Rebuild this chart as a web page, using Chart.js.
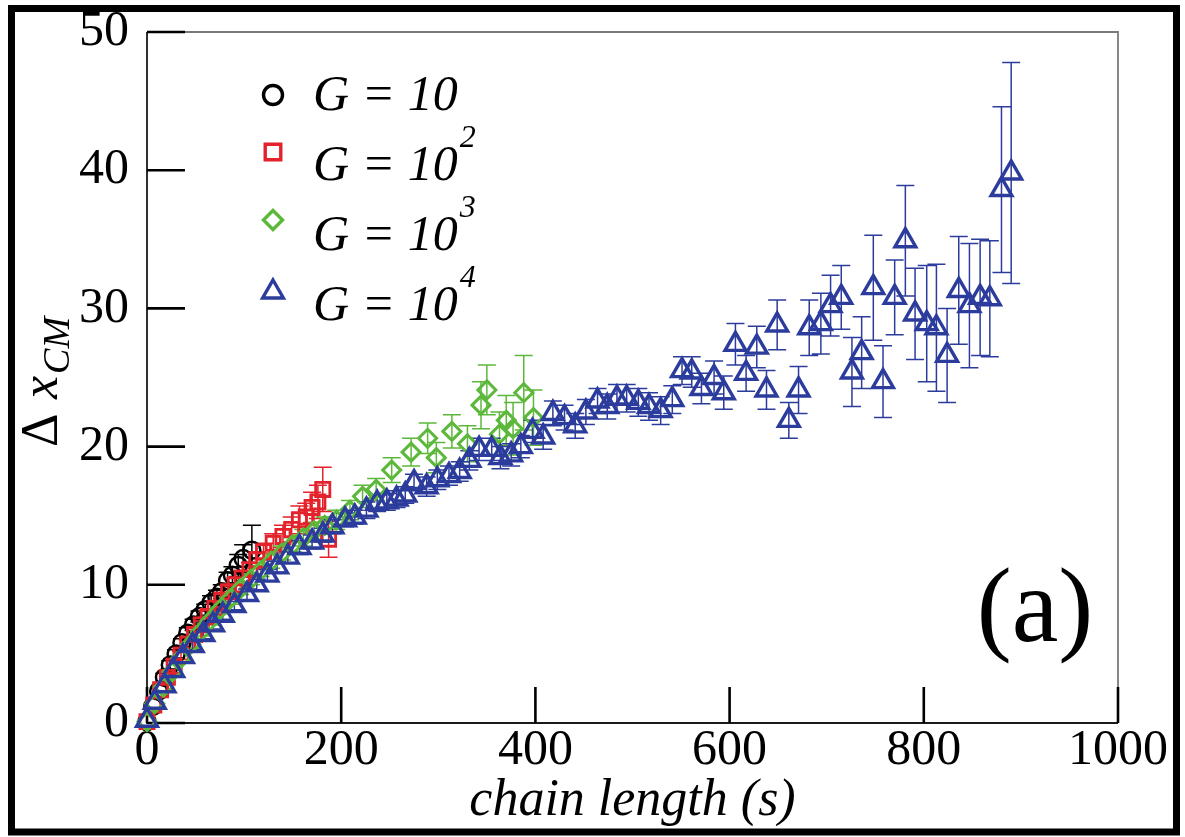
<!DOCTYPE html>
<html>
<head>
<meta charset="utf-8">
<title>Center of mass displacement vs chain length</title>
<script src="https://cdn.jsdelivr.net/npm/chart.js@4.4.0/dist/chart.umd.min.js"></script>
<style>
  html, body { margin: 0; padding: 0; background: #fff; }
  #wrap { position: relative; width: 1185px; height: 837px; }
  #wrap canvas { position: absolute; left: 0; top: 0; }
  .lbl {
    position: absolute;
    font-family: 'Liberation Serif', 'Times New Roman', Times, 'Noto Serif', 'DejaVu Serif', serif;
    color: #000;
    white-space: nowrap;
    line-height: 1;
  }
  .leg { left: 313px; font-size: 50px; font-style: italic; }
  .leg sup { font-size: 32px; vertical-align: baseline; position: relative; top: -33px; margin-left: 2px; }
  #panel { left: 935px; top: 553px; width: 200px; text-align: center; font-size: 105px; }
</style>
</head>
<body>
<div id="wrap">
  <canvas id="chart" width="1185" height="837"></canvas>
  <div id="legend"></div>
  <div class="lbl" id="panel">(a)</div>
</div>
<script>
// G = 10
const sG1 = [0, 6, 12, 18, 24, 30, 36, 42, 48, 54, 60, 66, 72, 77, 83, 88, 94, 99, 108];
const vG1 = [0.1, 1.2, 2.3, 3.3, 4.2, 5.0, 5.8, 6.5, 7.1, 7.7, 8.2, 8.7, 9.1, 9.5, 10.3, 10.7, 11.4, 11.9, 12.5];
const eG1 = [0.1, 0.2, 0.2, 0.3, 0.3, 0.3, 0.3, 0.4, 0.4, 0.4, 0.4, 0.5, 0.5, 0.5, 0.6, 0.6, 0.8, 1.0, 1.8];

// G = 10^2
const sG2 = [0, 7, 14, 21, 28, 35, 42, 49, 56, 63, 70, 77, 84, 91, 98, 106, 113, 120, 130, 140, 149, 157, 164, 170, 176, 181, 187];
const vG2 = [0.1, 1.3, 2.4, 3.3, 4.1, 4.9, 5.7, 6.4, 7.1, 7.7, 8.3, 8.9, 9.5, 10.0, 10.5, 11.1, 11.8, 12.4, 13.0, 13.5, 14.0, 14.7, 14.9, 15.6, 16.0, 16.9, 13.3];
const eG2 = [0.1, 0.1, 0.2, 0.2, 0.2, 0.3, 0.3, 0.3, 0.3, 0.4, 0.4, 0.4, 0.4, 0.5, 0.5, 0.5, 0.6, 0.6, 0.7, 0.8, 0.9, 1.0, 1.0, 1.1, 1.2, 1.6, 1.3];

// G = 10^3
const sG3 = [0, 8, 17, 26, 35, 45, 55, 65, 75, 86, 96, 107, 117, 128, 139, 150, 161, 172, 183, 195, 209, 222, 236, 252, 272, 289, 298, 314, 330, 344, 350, 363, 370, 377, 388, 398];
const vG3 = [0.1, 1.4, 2.6, 3.7, 4.7, 5.7, 6.6, 7.4, 8.2, 9.0, 9.7, 10.4, 11.0, 11.7, 12.3, 12.9, 13.4, 13.9, 14.3, 14.7, 15.4, 16.4, 16.9, 18.3, 19.6, 20.6, 19.2, 21.1, 20.2, 23.0, 24.1, 20.9, 21.9, 21.3, 23.9, 22.1];
const eG3 = [0.1, 0.1, 0.2, 0.2, 0.2, 0.3, 0.3, 0.3, 0.3, 0.4, 0.4, 0.4, 0.4, 0.5, 0.5, 0.5, 0.6, 0.6, 0.6, 0.7, 0.7, 0.8, 0.8, 0.9, 1.0, 1.1, 1.1, 1.2, 1.3, 1.7, 1.8, 1.6, 1.8, 1.9, 2.7, 2.0];

// G = 10^4
const sG4 = [0, 8, 18, 27, 37, 47, 58, 68, 78, 90, 103, 113, 124, 134, 145, 157, 170, 181, 191, 204,
  214, 226, 237, 247, 257, 266, 275, 288, 299, 311, 322, 332, 342, 355, 364, 375, 385, 397, 408, 418,
  430, 441, 452, 464, 474, 484, 494, 506, 517, 529, 541, 551, 561, 571, 584, 594, 606, 617, 628, 638,
  649, 661, 671, 682, 694, 704, 715, 726, 736, 748, 758, 770, 781, 791, 803, 813, 824, 836, 847, 858,
  868, 880, 890];
const vG4 = [0.2, 1.5, 2.7, 3.8, 4.8, 5.6, 6.4, 7.1, 7.8, 8.5, 9.3, 10.0, 10.7, 11.3, 12.0, 12.7, 13.1, 13.6, 14.2, 14.7,
  14.9, 15.4, 15.9, 16.0, 16.2, 16.5, 17.4, 17.1, 17.6, 17.9, 18.2, 19.0, 19.8, 19.8, 19.2, 19.4, 20.0, 21.1, 20.7, 22.4,
  22.1, 21.5, 22.5, 23.3, 22.9, 23.5, 23.5, 23.2, 22.9, 22.6, 23.4, 25.5, 25.4, 24.2, 25.0, 23.9, 27.4, 25.3, 27.2, 24.1,
  28.8, 21.9, 24.1, 28.6, 28.9, 30.2, 30.8, 25.4, 26.8, 31.5, 24.7, 30.8, 34.9, 29.6, 28.9, 28.6, 26.6, 31.3, 30.2, 30.8,
  30.7, 38.6, 39.8];
const eG4 = [0.1, 0.1, 0.2, 0.2, 0.2, 0.3, 0.3, 0.3, 0.3, 0.3, 0.4, 0.4, 0.4, 0.4, 0.4, 0.5, 0.5, 0.5, 0.5, 0.5,
  0.5, 0.6, 0.6, 0.6, 0.6, 0.6, 0.6, 0.7, 0.7, 0.7, 0.7, 0.7, 0.8, 0.8, 0.8, 0.8, 0.8, 0.8, 0.9, 0.9,
  0.9, 0.9, 0.9, 0.9, 0.9, 1.0, 1.0, 1.0, 1.0, 1.0, 1.0, 1.0, 1.1, 1.1, 1.2, 1.2, 1.5, 1.3, 1.5, 1.4,
  1.8, 1.3, 1.7, 2.0, 2.2, 2.2, 2.3, 2.5, 2.6, 3.8, 2.6, 2.7, 4.0, 3.3, 4.2, 4.6, 3.4, 3.9, 4.5, 4.2,
  4.2, 6.0, 8.0];

const xTicks = [0, 200, 400, 600, 800, 1000];
const yTicks = [0, 10, 20, 30, 40, 50];

const legendTexts = ['G = 10', 'G = 10', 'G = 10', 'G = 10'];
const legendPowers = ['', '2', '3', '4'];

const serif = "'Liberation Serif', 'Times New Roman', Times, 'Noto Serif', 'DejaVu Serif', serif";

function points(s, v) {
  return s.map((x, i) => ({ x: x, y: v[i] }));
}

const series = [
  { label: 'G = 10', s: sG1, v: vG1, e: eG1, color: '#000000', style: 'circle', radius: 8.5, width: 2.5, order: 4 },
  { label: 'G = 10^2', s: sG2, v: vG2, e: eG2, color: '#e3222b', style: 'rect', radius: 10, width: 2.8, order: 3 },
  { label: 'G = 10^3', s: sG3, v: vG3, e: eG3, color: '#5cb83a', style: 'rectRot', radius: 9, width: 3, order: 2 },
  { label: 'G = 10^4', s: sG4, v: vG4, e: eG4, color: '#2c3c9c', style: 'triangle', radius: 12, width: 3.4, order: 1 }
];

// legend rows: baselines at 110, 180, 250, 320
const legendTops = [68, 138, 208, 278];
const legendBox = document.getElementById('legend');
legendTexts.forEach((t, i) => {
  const row = document.createElement('div');
  row.className = 'lbl leg';
  row.style.top = legendTops[i] + 'px';
  row.textContent = t;
  if (legendPowers[i]) {
    const sup = document.createElement('sup');
    sup.textContent = legendPowers[i];
    row.appendChild(sup);
  }
  legendBox.appendChild(row);
});

const datasets = series.map(d => ({
  label: d.label,
  data: points(d.s, d.v),
  errors: d.e,
  pointStyle: d.style,
  pointRadius: d.radius,
  pointBorderWidth: d.width,
  pointBorderColor: d.color,
  pointBackgroundColor: 'rgba(0,0,0,0)',
  borderColor: d.color,
  order: d.order,
  clip: false
}));

// frame, inward ticks, error bars, legend markers and y title
const decor = {
  id: 'decor',
  beforeDatasetsDraw(chart) {
    const ctx = chart.ctx;
    const a = chart.chartArea;
    const xs = chart.scales.x;
    const ys = chart.scales.y;
    ctx.save();

    // plot frame
    ctx.lineWidth = 1.8;
    ctx.strokeStyle = '#7a7a7a';
    ctx.beginPath();
    ctx.moveTo(a.left, a.top);
    ctx.lineTo(a.right, a.top);
    ctx.lineTo(a.right, a.bottom);
    ctx.stroke();
    ctx.strokeStyle = '#1a1a1a';
    ctx.beginPath();
    ctx.moveTo(a.left, a.top);
    ctx.lineTo(a.left, a.bottom);
    ctx.lineTo(a.right, a.bottom);
    ctx.stroke();

    // ticks pointing into the plot
    ctx.strokeStyle = '#000';
    ctx.lineWidth = 2.6;
    ctx.beginPath();
    xTicks.forEach(t => {
      const px = xs.getPixelForValue(t);
      ctx.moveTo(px, a.bottom);
      ctx.lineTo(px, a.bottom - 36);
    });
    yTicks.forEach(t => {
      const py = ys.getPixelForValue(t);
      ctx.moveTo(a.left, py);
      ctx.lineTo(a.left + 38, py);
    });
    ctx.stroke();

    // error bars
    chart.data.datasets.forEach(ds => {
      ctx.strokeStyle = ds.borderColor;
      ctx.lineWidth = 1.5;
      ctx.beginPath();
      ds.data.forEach((p, i) => {
        const e = ds.errors[i];
        if (e < 0.3) return;
        const px = xs.getPixelForValue(p.x);
        const top = ys.getPixelForValue(p.y + e);
        const bot = ys.getPixelForValue(p.y - e);
        ctx.moveTo(px, top);
        ctx.lineTo(px, bot);
        ctx.moveTo(px - 9, top);
        ctx.lineTo(px + 9, top);
        ctx.moveTo(px - 9, bot);
        ctx.lineTo(px + 9, bot);
      });
      ctx.stroke();
    });
    ctx.restore();
  },
  afterDraw(chart) {
    const ctx = chart.ctx;
    ctx.save();

    // legend markers
    const markY = [95, 152, 220, 292];
    series.forEach((d, i) => {
      ctx.strokeStyle = d.color;
      ctx.fillStyle = 'rgba(0,0,0,0)';
      Chart.helpers.drawPoint(ctx, {
        pointStyle: d.style,
        radius: d.style === 'triangle' ? 12 : (d.style === 'rect' ? 11 : 9.5),
        rotation: 0,
        borderWidth: d.width
      }, 273, markY[i]);
    });

    // y axis title: Δ x_CM
    ctx.fillStyle = '#000';
    ctx.textBaseline = 'alphabetic';
    ctx.translate(57, 447);
    ctx.rotate(-Math.PI / 2);
    ctx.textAlign = 'left';
    ctx.font = '52px ' + serif;
    ctx.fillText('Δ', 0, 0);
    ctx.font = 'italic 52px ' + serif;
    ctx.fillText('x', 48, 0);
    const xw = ctx.measureText('x').width;
    ctx.font = 'italic 38px ' + serif;
    ctx.fillText('CM', 48 + xw + 2, 12);
    ctx.setTransform(1, 0, 0, 1, 0, 0);

    // outer border
    ctx.strokeStyle = '#000';
    ctx.lineWidth = 7;
    ctx.strokeRect(11.5, 8.5, 1165, 823.5);
    ctx.restore();
  }
};

function drawChart() {
  return new Chart(document.getElementById('chart'), {
    type: 'scatter',
    data: { datasets: datasets },
    options: {
      responsive: false,
      animation: false,
      devicePixelRatio: 1,
      layout: { padding: { top: 32, right: 67, left: 0, bottom: 0 } },
      plugins: {
        legend: { display: false },
        tooltip: { enabled: false }
      },
      scales: {
        x: {
          type: 'linear',
          min: 0,
          max: 1000,
          grid: { display: false },
          border: { display: false },
          afterBuildTicks(scale) { scale.ticks = xTicks.map(v => ({ value: v })); },
          afterFit(scale) {
            scale.height = 114;
            scale.paddingLeft = 0;
            scale.paddingRight = 0;
          },
          ticks: {
            color: '#000',
            padding: -10,
            maxRotation: 0,
            autoSkip: false,
            callback: v => String(v),
            font: { family: serif, size: 50 }
          },
          title: {
            display: true,
            text: 'chain length (s)',
            color: '#000',
            padding: { top: 0, bottom: 4 },
            font: { family: serif, size: 52, style: 'italic' }
          }
        },
        y: {
          type: 'linear',
          min: 0,
          max: 50,
          grid: { display: false },
          border: { display: false },
          afterBuildTicks(scale) { scale.ticks = yTicks.map(v => ({ value: v })); },
          afterFit(scale) {
            scale.width = 147;
            scale.paddingTop = 0;
            scale.paddingBottom = 0;
          },
          ticks: {
            color: '#000',
            padding: 10,
            autoSkip: false,
            callback: v => String(v),
            font: { family: serif, size: 50 }
          }
        }
      }
    },
    plugins: [decor]
  });
}

// the page text pulls in the serif faces; draw once they are ready
window.addEventListener('load', () => {
  if (document.fonts && document.fonts.ready) {
    document.fonts.ready.then(drawChart);
  } else {
    drawChart();
  }
});
</script>
</body>
</html>
